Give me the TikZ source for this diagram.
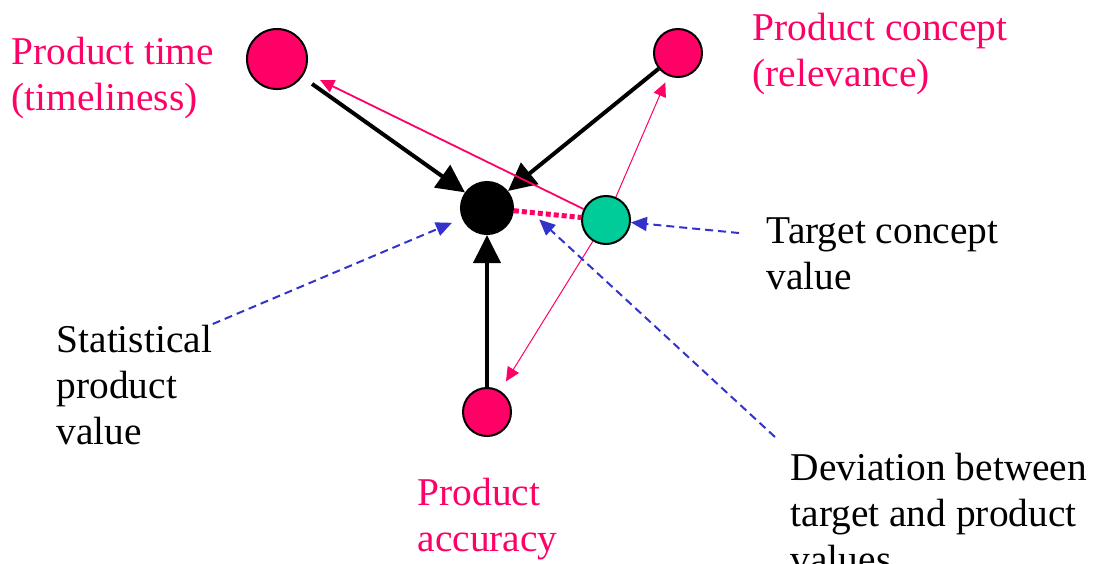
\documentclass[tikz,border=0pt]{standalone}
\usepackage{fontspec}
\setmainfont{Liberation Serif}
\usepackage{xcolor}
\usepackage{tikz}
\usetikzlibrary{arrows.meta}
\definecolor{prodpink}{HTML}{FF0066}
\definecolor{targetgreen}{HTML}{00CC99}
\definecolor{noteblue}{HTML}{3333CC}

\begin{document}
\begin{tikzpicture}[x=0.01cm, y=-0.01cm,
    ball/.style={circle, draw=black, line width=0.02cm, inner sep=0pt},
    lbl/.style={anchor=north west, inner sep=0pt, align=left,
      font=\fontsize{11.2}{13.1}\selectfont},
    heavy/.style={line width=0.04cm, -{Triangle[length=0.28cm, width=0.27cm]}},
    feedback/.style={prodpink, -{Triangle[length=0.14cm, width=0.13cm]}},
    note/.style={noteblue, line width=0.02cm, dash pattern=on 0.08cm off 0.05cm,
      -{Triangle[length=0.16cm, width=0.14cm]}}]
    \useasboundingbox (0,0) rectangle (1093,563);
    % value points
    \node[ball, fill=prodpink, minimum size=0.6cm] (time) at (277,59) {};
    \node[ball, fill=prodpink, minimum size=0.48cm] (concept) at (678,53) {};
    \node[ball, fill=black, minimum size=0.52cm] (stat) at (487,208) {};
    \node[ball, fill=targetgreen, minimum size=0.48cm] (target) at (606,220) {};
    \node[ball, fill=prodpink, minimum size=0.48cm] (accuracy) at (487,412) {};
    % labels
    \node[lbl, prodpink] (timelbl) at (11,36) {Product time\\(timeliness)};
    \node[lbl, prodpink] (conceptlbl) at (752,12) {Product concept\\(relevance)};
    \node[lbl] (targetlbl) at (766,217) {Target concept\\value};
    \node[lbl] (statlbl) at (56,324) {Statistical\\product\\value};
    \node[lbl, prodpink] (accuracylbl) at (417,477) {Product\\accuracy};
    \node[lbl] (devlbl) at (790,452) {Deviation between\\target and product\\values};
    \coordinate (targetfrom) at (739,233);
    \coordinate (devfrom) at (775,437);
    % contributions
    \draw[heavy, shorten <=0.12cm] (time) -- (stat);
    \draw[heavy] (concept) -- (stat);
    \draw[heavy] (accuracy) -- (stat);
    \draw[feedback, line width=0.018cm, shorten >=0.17cm] (target) -- (time);
    \draw[feedback, line width=0.01cm, shorten >=0.07cm] (target) -- (concept);
    \draw[feedback, line width=0.01cm, shorten >=0.11cm] (target) -- (accuracy);
    \draw[prodpink, line width=0.05cm, dash pattern=on 0.05cm off 0.03cm] (stat) -- (target);
    % notes
    \draw[note, shorten >=0.11cm] (statlbl.north east) -- (stat);
    \draw[note] (targetfrom) -- (target);
    \draw[note, shorten >=0.45cm] (devfrom) -- (stat.north east);
\end{tikzpicture}
\end{document}
